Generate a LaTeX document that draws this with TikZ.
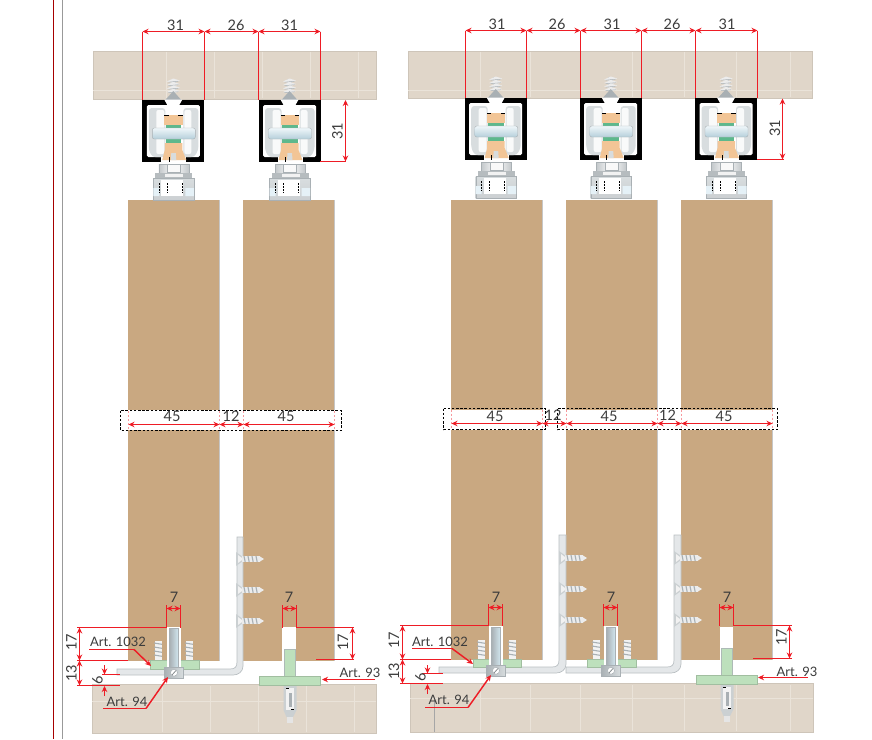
\documentclass[tikz,border=0pt]{standalone}
\usepackage{fontspec}
\setmainfont{Lato}
\usetikzlibrary{arrows.meta}
\definecolor{wood}{HTML}{C9A881}
\definecolor{plank}{HTML}{E0D6C9}
\definecolor{seam}{HTML}{EAE3D9}
\definecolor{redl}{HTML}{EE1C25}
\definecolor{ink}{HTML}{3C3C3C}
\definecolor{plate}{HTML}{BDE0BC}
\definecolor{steel}{HTML}{D8DDDF}
\definecolor{steeld}{HTML}{A9B0B4}
\definecolor{orng}{HTML}{F2C596}
\definecolor{grn}{HTML}{5DB88C}
\definecolor{axl}{HTML}{BFDDEA}
\tikzset{
  lbl/.style={text=ink,font=\fontsize{14.5}{15}\selectfont,inner sep=0pt},
  lblr/.style={lbl,rotate=90},
  art/.style={text=ink,font=\fontsize{13}{14}\selectfont,inner sep=0pt},
  redline/.style={draw=redl,line width=1.45pt},
  dimarrow/.style={redline,{Stealth[length=6pt,width=5.5pt]}-{Stealth[length=6pt,width=5.5pt]}},
  onearrow/.style={redline,-{Stealth[length=6pt,width=5.5pt]}},
  plankbox/.style={fill=plank,draw=plank!92!black,line width=0.4pt},
  seamline/.style={draw=seam,line width=0.6pt},
  door/.style={fill=wood,draw=none},
  brk/.style={draw=black,line width=0.8pt,dash pattern=on 2.5pt off 1.7pt},
  brkin/.style={draw=redl!45,line width=0.8pt,dash pattern=on 2pt off 2pt},
  steelpart/.style={fill=steel!70!white,draw=steeld!80,line width=0.7pt},
  greenpart/.style={fill=plate,draw=plate!85!black,line width=0.3pt},
}
% trolley #1 = centre x, #2 = top y
\newcommand{\trolleyat}[2]{%
 \begin{scope}[shift={(#1,#2)}]
  % fixing screw
  \fill[steeld!70] (-2.5,-21) -- (2.5,-21) -- (2.5,-8) -- (-2.5,-8) -- cycle;
  \foreach \yy in {-19,-15.5,-12,-8.5}{\fill[white!85!gray] (-6.5,\yy+0.5) -- (0,\yy-2.5) -- (6.5,\yy-0.5) -- (0,\yy+2) -- cycle;\draw[steeld,line width=0.5pt] (-5,\yy+1.2) -- (5,\yy+0.2);}
  \fill[steeld] (-8,0) -- (0,-9) -- (8,0) -- cycle;
  % channel
  \fill[black] (-31,0) rectangle (31,62);
  \fill[white,rounded corners=1.5pt] (-26.5,5) rectangle (26.5,57);
  \fill[white] (-9,-0.4) -- (9,-0.4) -- (6,5) -- (-6,5) -- cycle;
  \fill[white] (-12,56) rectangle (13,62.4);
  % wheels
  \fill[steel,rounded corners=3pt] (-24.5,8) -- (-8,8) -- (-8,18) -- (-8,57) -- (-21,57) -- (-24.5,50) -- cycle;
  \fill[steel,rounded corners=3pt] (10,8) -- (25,8) -- (25,50) -- (21,57) -- (10,57) -- cycle;
  \fill[white!85!steel,rounded corners=2pt] (-17,10) rectangle (-9,54);
  \fill[white!85!steel,rounded corners=2pt] (11,10) rectangle (18,54);
  % carrier
  \fill[orng] (-9,15) rectangle (9.5,25);
  \fill[black] (-9,15) rectangle (-4.5,15.7);
  \fill[black] (5,15) rectangle (9.5,15.7);
  \fill[grn] (-7.5,25) rectangle (8,28);
  \fill[grn] (-7.5,39) rectangle (8,43);
  \fill[orng] (-8.5,43) -- (9,43) -- (9,50) -- (13,60) -- (-11,60) -- (-8.5,50) -- cycle;
  \fill[steeld!45] (-2,53) -- (2.5,53) -- (3,60) -- (-2.5,60) -- cycle;
  \fill[black] (-4.4,57) rectangle (-3.6,62);
  % axle
  \shade[top color=white!75!axl,bottom color=axl!85!gray,draw=steeld,line width=0.4pt,rounded corners=2pt] (-21,28) rectangle (22,39);
  % nuts
  \shade[left color=steeld!70,right color=steeld!70,middle color=white,draw=steeld,line width=0.4pt] (-14.5,64) rectangle (15.5,73);
  \fill[white!95!gray,draw=steeld,line width=0.4pt] (-6,64.5) rectangle (7,72.5);
  \fill[steeld!85] (-18,73) rectangle (19,78);
  \fill[white!90!gray] (-8,73.5) rectangle (10,77);
  \shade[top color=steel,bottom color=steeld!60,draw=steeld,line width=0.4pt] (-20,78) rectangle (20.5,100);
  \fill[white] (-12,80) rectangle (10,96);
  \fill[axl!40] (-20,88) rectangle (-14,96) (12,88) rectangle (20.5,96);
  \draw[black,line width=0.7pt,dash pattern=on 1.5pt off 1.5pt] (-14,83) -- (-14,93) (-6,83) -- (-6,93) (9,83) -- (9,93);
 \end{scope}}
% side screw on an upright
\newcommand{\sidescrew}[2]{%
 \begin{scope}[shift={(#1,#2)}]
  \fill[steeld!60] (-4,-7) -- (3,-2) -- (3,2) -- (-4,7) -- cycle;
  \fill[white!90!gray] (-2,-4) -- (2,-1) -- (2,1) -- (-2,4) -- cycle;
  \fill[white!85!gray] (2,-2.8) rectangle (20,2.8);
  \foreach \xx in {4,8,12,16}{\draw[steeld,line width=1.1pt] (\xx,-3) -- (\xx+1.2,3);}
  \fill[white!85!gray] (20,-2.5) -- (24,0) -- (20,2.5) -- cycle;
 \end{scope}}
% upright screw in door bottom, #2 = bottom y
\newcommand{\vscrew}[2]{%
 \begin{scope}[shift={(#1,#2)}]
  \fill[white!90!gray] (-3.5,0) rectangle (3.5,-19);
  \foreach \yy in {-17,-13,-9,-5}{\draw[steeld,line width=1.1pt] (-4,\yy) -- (4,\yy+1.3);}
 \end{scope}}
% slot pin and clamp: #1 centre x of pin, #2 pin top, #3 block top
\newcommand{\clampat}[3]{%
 \fill[white] (#1-7.5,#2-1) rectangle (#1+7,#3);
 \shade[left color=steeld,right color=axl!70,draw=steeld,line width=0.5pt] (#1-4.5,#2) rectangle (#1+4.5,#3);
 \shade[left color=steeld,right color=steel,draw=steeld,line width=0.6pt] (#1-10,#3) rectangle (#1+9.5,#3+11);
 \fill[white,draw=steeld,line width=0.5pt] (#1,#3+5.7) circle (3.5);
 \draw[steeld!80!black,line width=0.8pt] (#1-2,#3+8) -- (#1+2,#3+3.5);}
% floor T and anchor: #1 centre x, #2 post top, #3 plate top
\newcommand{\tfoot}[3]{%
 \fill[steeld!60] (#1-6,#3+9) -- (#1+7,#3+9) -- (#1+7,#3+34) -- (#1+3.5,#3+41) -- (#1-3,#3+41) -- (#1-6,#3+34) -- cycle;
 \fill[white!90!gray] (#1-3.5,#3+12) rectangle (#1+4.5,#3+34);
 \fill[steeld] (#1-1,#3+17) rectangle (#1+2,#3+31);
 \fill[black] (#1-3.5,#3+12) rectangle (#1-0.5,#3+13);
 \fill[black] (#1+1,#3+33) rectangle (#1+4.5,#3+34);
 \fill[white!80!gray] (#1-3,#3+41) rectangle (#1+3.5,#3+47);
 \draw[greenpart,draw=steeld!80!plate,line width=0.6pt] (#1-5.5,#2) rectangle (#1+5.5,#3);
 \draw[greenpart] (#1-30.5,#3) rectangle (#1+30.5,#3+9);}
\begin{document}
\begin{tikzpicture}[x=1pt,y=-1pt]
\useasboundingbox[fill=white] (0,0) rectangle (872,739);
% margin rules
\draw[draw=red!65!black,line width=1.2pt] (53.5,0) -- (53.5,739);
\draw[draw=gray!80,line width=1.2pt] (62.5,0) -- (62.5,739);
% planks
\draw[plankbox] (93,51) rectangle (376,99);
\draw[plankbox] (408,51) rectangle (812,98);
\draw[plankbox] (92,684.5) rectangle (376,733);
\draw[plankbox] (410,683.5) rectangle (813,732);
\foreach \xa in {166,214,262,310,358}{\draw[seamline] (\xa,52) -- (\xa,98);\draw[seamline] (\xa-4,686) -- (\xa-4,732);}
\foreach \xa in {480,530,580,632,684,736,790}{\draw[seamline] (\xa,52) -- (\xa,97);\draw[seamline] (\xa,685) -- (\xa,731);}
\draw[seamline] (93,90) -- (376,90) (408,90) -- (812,90) (92,701) -- (376,701) (410,698) -- (813,698);
\draw[draw=gray!70,line width=0.8pt] (434.5,700) -- (434.5,732);
% doors
\foreach \xa/\xb/\yb in {128/219/661,243/334/661,451/542/659.5,566/657/659.5,681/772/659.5}{
  \fill[door] (\xa,200) rectangle (\xb,\yb);
  \draw[draw=gray!45,line width=0.7pt] (\xb,200) -- (\xb,\yb);
  \fill[white] (\xa-1,410) rectangle (\xb+1,430);
}
\foreach \xa/\xb/\yb in {167/181/661,282/296/661,489/503/659.5,604/618/659.5,720/733/659.5}{
  \fill[white] (\xa,627) rectangle (\xb,\yb+0.4);
}
% door bottom screws
\vscrew{158}{660}\vscrew{189}{660}\vscrew{481}{659}\vscrew{512}{659}\vscrew{596}{659}\vscrew{627}{659}
% L brackets
\draw[steelpart] (117,669) -- (230,669) .. controls (235,669) and (237,667) .. (237,662) -- (237,537) -- (243,537) -- (243,666) .. controls (243,672) and (238,675) .. (233,675) -- (117,675) -- cycle;
\draw[steelpart] (439,667) -- (552,667) .. controls (557,667) and (559,665) .. (559,660) -- (559,535) -- (566,535) -- (566,664) .. controls (566,670) and (561,673) .. (556,673) -- (439,673) -- cycle;
\draw[steelpart] (566,667) -- (667,667) .. controls (672,667) and (674,665) .. (674,660) -- (674,535) -- (681,535) -- (681,664) .. controls (681,670) and (676,673) .. (671,673) -- (566,673) -- cycle;
% side screws
\foreach \yy in {559,590,621}{\sidescrew{240}{\yy}}
\foreach \yy in {558,589,620}{\sidescrew{563}{\yy}\sidescrew{678}{\yy}}
% green plates under doors
\draw[greenpart] (150,660.5) rectangle (199,669);
\draw[greenpart] (473,659.5) rectangle (521,667);
\draw[greenpart] (587,659.5) rectangle (636,667);
\clampat{174}{628}{667}
\clampat{496}{627}{665}
\clampat{611}{627}{665}
% floor T parts
\tfoot{289.5}{649}{676}
\tfoot{726.5}{648}{675}
% trolleys
\trolleyat{173.3}{100}
\trolleyat{289.5}{100}
\trolleyat{495.7}{98}
\trolleyat{610.7}{98}
\trolleyat{726}{98}
% top dimensions left
\draw[redline] (142.5,31.5) -- (142.5,100) (204.5,31.5) -- (204.5,100) (258.5,31.5) -- (258.5,100) (320.5,31.5) -- (320.5,100);
\draw[dimarrow] (142.5,31.5) -- (204.5,31.5);
\draw[dimarrow] (204.5,31.5) -- (258.5,31.5);
\draw[dimarrow] (258.5,31.5) -- (320.5,31.5);
\node[lbl] (t1) at (175.5,25) {31};
\node[lbl] (t2) at (236,25) {26};
\node[lbl] (t3) at (289.5,25) {31};
% top dimensions right
\draw[redline] (465.5,30.5) -- (465.5,98) (526.5,30.5) -- (526.5,98) (580.5,30.5) -- (580.5,98) (641.5,30.5) -- (641.5,98) (695.5,30.5) -- (695.5,98) (757.5,30.5) -- (757.5,98);
\draw[dimarrow] (465.5,30.5) -- (526.5,30.5);
\draw[dimarrow] (526.5,30.5) -- (580.5,30.5);
\draw[dimarrow] (580.5,30.5) -- (641.5,30.5);
\draw[dimarrow] (641.5,30.5) -- (695.5,30.5);
\draw[dimarrow] (695.5,30.5) -- (757.5,30.5);
\node[lbl] (t4) at (497,24) {31};
\node[lbl] (t5) at (557,24) {26};
\node[lbl] (t6) at (612,24) {31};
\node[lbl] (t7) at (672,24) {26};
\node[lbl] (t8) at (727,24) {31};
% track heights
\draw[redline] (320,161.5) -- (346,161.5);
\draw[dimarrow] (345.5,100) -- (345.5,161.5);
\node[lblr] (h1) at (337.5,131) {31};
\draw[redline] (757,159.5) -- (784,159.5);
\draw[dimarrow] (782.5,98.5) -- (782.5,159.5);
\node[lblr] (h2) at (775,128) {31};
% break bands
\draw[brk] (120.5,410.5) rectangle (341.5,430.5);
\draw[brk] (443.5,408.5) rectangle (545.5,429.5);
\draw[brk] (557.5,408.5) rectangle (777.5,429.5);
\foreach \xa in {128.5,219.5,243.5,334.5}{\draw[brkin] (\xa,411) -- (\xa,430);}
\foreach \xa in {451.5,542.5,566.5,657.5,681.5,772.5}{\draw[brkin] (\xa,409.5) -- (\xa,429);}
\draw[dimarrow] (128.5,424.5) -- (219.5,424.5);
\draw[dimarrow] (219.5,424.5) -- (243.5,424.5);
\draw[dimarrow] (243.5,424.5) -- (334.5,424.5);
\draw[dimarrow] (451.5,423.5) -- (542.5,423.5);
\draw[dimarrow] (542.5,423.5) -- (566.5,423.5);
\draw[dimarrow] (566.5,423.5) -- (657.5,423.5);
\draw[dimarrow] (657.5,423.5) -- (681.5,423.5);
\draw[dimarrow] (681.5,423.5) -- (772.5,423.5);
\node[lbl] (b1) at (172,416) {45};
\node[lbl] (b2) at (231,416) {12};
\node[lbl] (b3) at (286,416) {45};
\node[lbl] (b4) at (495,416) {45};
\node[lbl] (b5) at (553,415) {12};
\node[lbl] (b6) at (609,416) {45};
\node[lbl] (b7) at (667.5,415) {12};
\node[lbl] (b8) at (724,416) {45};
% slot width dimensions
\foreach \xa/\xb/\yy/\yt in {166.5/180.5/608.5/627.5,282.5/296.5/608.5/627.5,488.5/502.5/607.5/625.5,603.5/617.5/607.5/625.5,719.5/733.5/607.5/625.5}{
  \draw[redline] (\xa,\yy-3.5) -- (\xa,\yt) (\xb,\yy-3.5) -- (\xb,\yt);
  \draw[dimarrow] (\xa,\yy) -- (\xb,\yy);
}
\node[lbl] (s1) at (174,597) {7};
\node[lbl] (s2) at (289,597) {7};
\node[lbl] (s3) at (496,597) {7};
\node[lbl] (s4) at (611,597) {7};
\node[lbl] (s5) at (727,597) {7};
% lower left dims, left group
\draw[redline] (77,627.5) -- (166.5,627.5) (77,660.5) -- (128,660.5) (77,685.5) -- (120,685.5) (102,674.5) -- (120,674.5);
\draw[dimarrow] (79.5,627.5) -- (79.5,660.5);
\draw[dimarrow] (79.5,660.5) -- (79.5,685.5);
\draw[onearrow] (104.5,665) -- (104.5,674.5);
\draw[onearrow] (104.5,696) -- (104.5,686);
\node[lblr] (d1) at (71.5,642) {17};
\node[lblr] (d2) at (71.5,673) {13};
\node[lblr] (d3) at (97.5,680) {6};
% lower right dims, left group
\draw[redline] (296.5,627.5) -- (354,627.5) (316,659.5) -- (354,659.5);
\draw[dimarrow] (352.5,627.5) -- (352.5,659.5);
\node[lblr] (d4) at (343,642) {17};
% lower left dims, right group
\draw[redline] (400,625.5) -- (488.5,625.5) (400,659.5) -- (451,659.5) (400,683.5) -- (443,683.5) (422,673.5) -- (443,673.5);
\draw[dimarrow] (402.5,625.5) -- (402.5,659.5);
\draw[dimarrow] (402.5,659.5) -- (402.5,683.5);
\draw[onearrow] (427.5,665) -- (427.5,673.5);
\draw[onearrow] (427.5,694) -- (427.5,684);
\node[lblr] (d5) at (394,640) {17};
\node[lblr] (d6) at (394,671) {13};
\node[lblr] (d7) at (420.5,677) {6};
% lower right dims, right group
\draw[redline] (733.5,625.5) -- (792,625.5) (753,658.5) -- (792,658.5);
\draw[dimarrow] (789.5,625.5) -- (789.5,658.5);
\node[lblr] (d8) at (781.5,637) {17};
% article labels, left
\node[art] (a1) at (118,642) {Art. 1032};
\draw[redline] (89,649.5) -- (134,649.5);
\draw[onearrow] (134,649.5) -- (151,666);
\node[art] (a2) at (127,702) {Art. 94};
\draw[redline] (103,708.5) -- (146,708.5);
\draw[onearrow] (146,708.5) -- (168,677);
\node[art] (a3) at (360,673) {Art. 93};
\draw[onearrow] (375,679.5) -- (322,679.5);
% article labels, right
\node[art] (a4) at (440,642) {Art. 1032};
\draw[redline] (412,648.5) -- (452,648.5);
\draw[onearrow] (452,648.5) -- (473,664);
\node[art] (a5) at (449,700) {Art. 94};
\draw[redline] (425,707.5) -- (468,707.5);
\draw[onearrow] (468,707.5) -- (491,675);
\node[art] (a6) at (797,672) {Art. 93};
\draw[onearrow] (808,677.5) -- (758,677.5);
\end{tikzpicture}
\end{document}
